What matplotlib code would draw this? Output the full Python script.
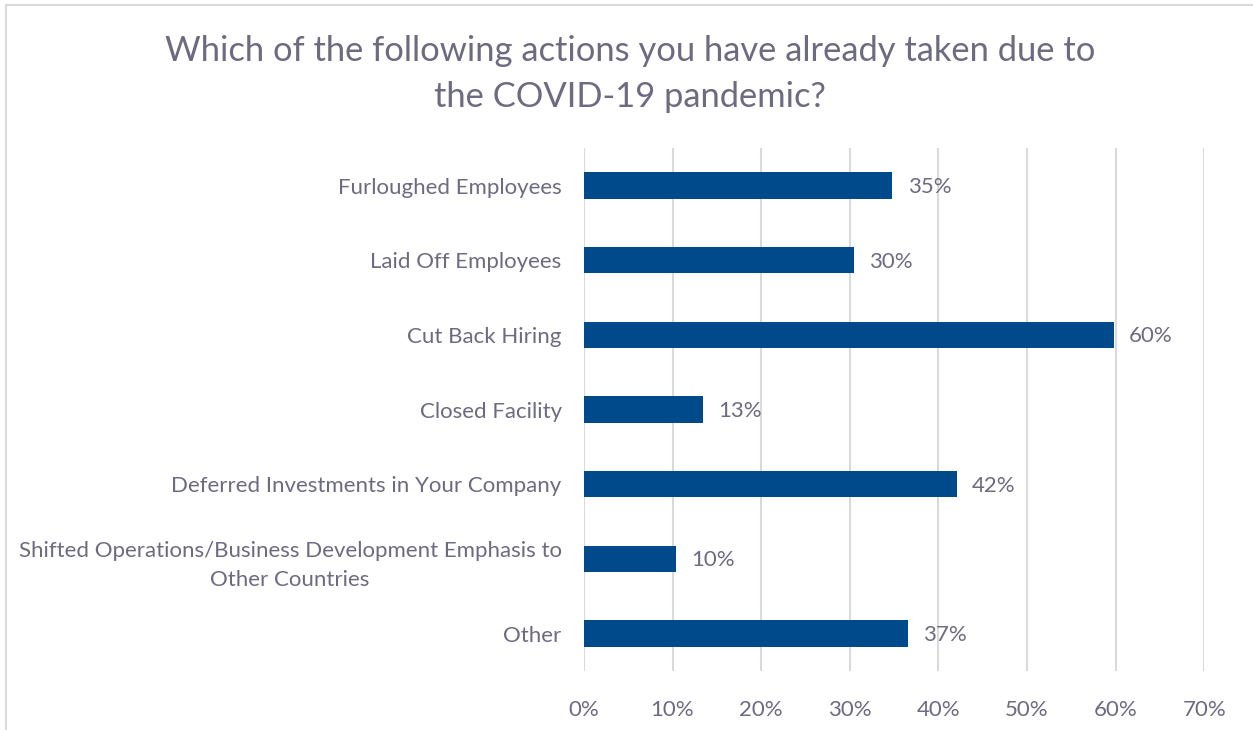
import matplotlib.pyplot as plt
from matplotlib.ticker import FuncFormatter, MultipleLocator
from matplotlib.patches import Rectangle

plt.rcParams['font.family'] = ['Lato', 'DejaVu Sans']

# --- survey data ---
actions = [
    'Furloughed Employees',
    'Laid Off Employees',
    'Cut Back Hiring',
    'Closed Facility',
    'Deferred Investments in Your Company',
    'Shifted Operations/Business Development Emphasis to\nOther Countries',
    'Other',
]
shares = [0.348, 0.305, 0.598, 0.134, 0.421, 0.104, 0.366]

TITLE = 'Which of the following actions you have already taken due to\nthe COVID-19 pandemic?'
BAR_COLOR = '#004A8C'
TEXT_COLOR = '#6C6B80'
GRID_COLOR = '#D9D9DE'

fig = plt.figure(figsize=(12.53, 7.30), dpi=100)
ax = fig.add_axes([0.466, 0.081, 0.495, 0.716])

ypos = list(range(len(actions)))
ax.barh(ypos, shares, height=0.35, color=BAR_COLOR, zorder=3)

for y, v in zip(ypos, shares):
    ax.annotate(f'{v:.0%}', (v, y), xytext=(11, -1), textcoords='offset points',
                ha='left', va='center', fontsize=16, color=TEXT_COLOR)

ax.set_xlim(0, 0.7)
ax.set_ylim(len(actions) - 0.5, -0.5)
ax.xaxis.set_major_locator(MultipleLocator(0.1))
ax.xaxis.set_major_formatter(FuncFormatter(lambda x, _: f'{x:.0%}'))
ax.set_yticks(ypos)
ax.set_yticklabels(actions, fontsize=16, color=TEXT_COLOR)
for lbl in ax.get_yticklabels():
    lbl.set_multialignment('center')
    lbl.set_linespacing(1.6)
ax.tick_params(axis='y', length=0, pad=16)
ax.tick_params(axis='x', length=0, pad=21, labelsize=16, labelcolor=TEXT_COLOR)

ax.grid(axis='x', color=GRID_COLOR, linewidth=1.5, zorder=0)
for s in ax.spines.values():
    s.set_visible(False)

fig.suptitle(TITLE, x=0.503, y=0.952, va='top', fontsize=24.8, color=TEXT_COLOR,
             linespacing=1.55)

# light chart frame
fig.patches.append(Rectangle((6 / 1253, -0.1), 1.2, 1.1 - 5 / 730, transform=fig.transFigure,
                             fill=False, edgecolor='#D9D9DE', linewidth=1.5))

fig.savefig('out.png', dpi=100)
